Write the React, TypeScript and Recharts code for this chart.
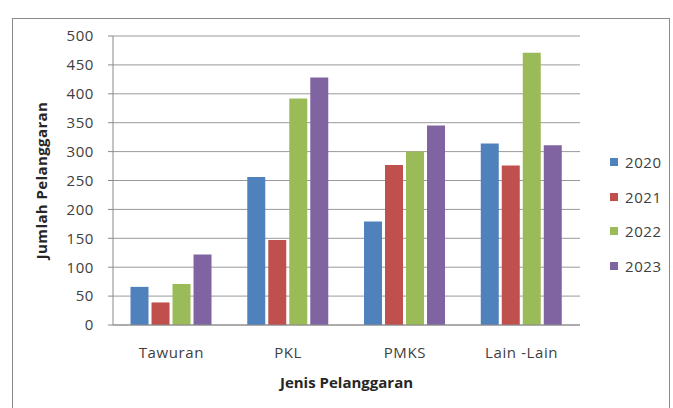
import { FC } from 'react';
import {
  BarChart,
  Bar,
  XAxis,
  YAxis,
  CartesianGrid,
  Legend,
  Label
} from 'recharts';

// Categories and yearly counts
const CATEGORIES = ['Tawuran', 'PKL', 'PMKS', 'Lain -Lain'];
const Y2020 = [66, 256, 179, 314];
const Y2021 = [39, 147, 277, 276];
const Y2022 = [71, 392, 300, 471];
const Y2023 = [122, 428, 345, 311];
const Y_TICKS = [0, 50, 100, 150, 200, 250, 300, 350, 400, 450, 500];

const SERIES = [
  { key: '2020', values: Y2020, color: '#4F81BD' },
  { key: '2021', values: Y2021, color: '#C0504D' },
  { key: '2022', values: Y2022, color: '#9BBB59' },
  { key: '2023', values: Y2023, color: '#8064A2' }
];

const FONT = '"Open Sans", Lato, sans-serif';
const TEXT = '#404040';

const chartData = CATEGORIES.map((name, i) => {
  const row: Record<string, string | number> = { name };
  SERIES.forEach((s) => {
    row[s.key] = s.values[i];
  });
  return row;
});

const tickStyle = { fill: TEXT, fontSize: 15, fontFamily: FONT, letterSpacing: 0.6 };

// Legend drawn as a simple vertical list like the Excel one
const renderLegend = () => (
  <div style={{ fontFamily: FONT, fontSize: 15, color: TEXT, width: 62, letterSpacing: 0.6 }}>
    {SERIES.map((s) => (
      <div key={s.key} style={{ display: 'flex', alignItems: 'center', height: 34.5 }}>
        <span style={{ width: 8, height: 8, background: s.color, marginRight: 7, display: 'inline-block' }} />
        <span>{s.key}</span>
      </div>
    ))}
  </div>
);

const App: FC = () => {
  return (
    <div style={{ position: 'absolute', left: 0, top: 0, width: 673, height: 408, background: '#fff', fontFamily: FONT }}>
      <div
        style={{
          position: 'absolute',
          left: 12,
          top: 18,
          width: 658,
          height: 400,
          border: '1px solid #8a8a8a',
          boxSizing: 'border-box'
        }}
      />
      <div style={{ position: 'absolute', left: 0, top: 0 }}>
        <BarChart
          width={673}
          height={408}
          data={chartData}
          margin={{ top: 36, right: 31, bottom: 0, left: 0 }}
          barCategoryGap="15%"
          barGap={3}
        >
          <CartesianGrid vertical={false} stroke="#9a9a9a" />
          <XAxis
            dataKey="name"
            height={83}
            stroke="#8a8a8a"
            tickLine={false}
            tickMargin={16}
            tick={tickStyle}
          >
            <Label
              value="Jenis Pelanggaran"
              position="insideBottom"
              offset={20}
              style={{ fill: '#262626', fontSize: 15, fontWeight: 700, fontFamily: FONT }}
            />
          </XAxis>
          <YAxis
            width={113}
            domain={[0, 500]}
            ticks={Y_TICKS}
            interval={0}
            stroke="#8a8a8a"
            tickSize={5}
            tickMargin={14}
            tick={tickStyle}
          >
            <Label
              value="Jumlah Pelanggaran"
              angle={-90}
              position="insideLeft"
              offset={42}
              style={{ textAnchor: 'middle', fill: '#262626', fontSize: 15, fontWeight: 700, fontFamily: FONT, letterSpacing: 0.4 }}
            />
          </YAxis>
          <Legend
            layout="vertical"
            align="right"
            verticalAlign="middle"
            content={renderLegend}
            wrapperStyle={{ left: 610, top: 145, width: 62 }}
          />
          {SERIES.map((s) => (
            <Bar key={s.key} dataKey={s.key} fill={s.color} isAnimationActive={false} />
          ))}
        </BarChart>
      </div>
    </div>
  );
};

export default App;
